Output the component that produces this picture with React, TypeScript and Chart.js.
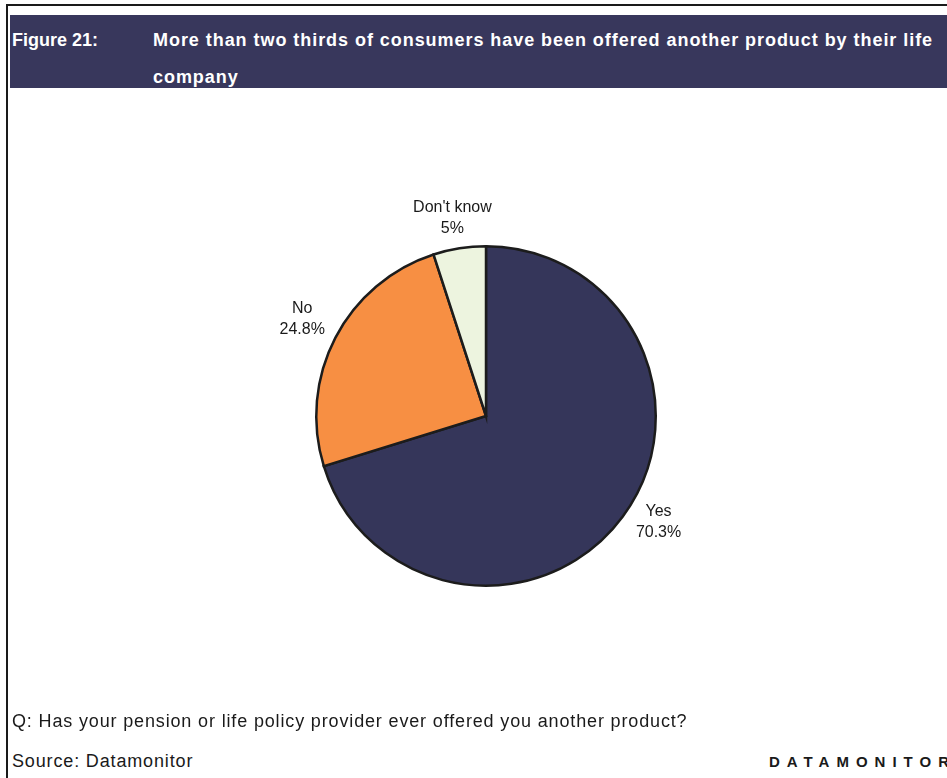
import React, { useEffect, useRef } from "react";
import { Chart, registerables } from "chart.js";

Chart.register(...registerables);

const categories = ["Yes", "No", "Don't know"];
const values = [70.3, 24.8, 5];
const valueLabels = ["70.3%", "24.8%", "5%"];
const colors = ["#35365A", "#F78F43", "#EDF4DF"];

const titleLabel = "Figure 21:";
const titleLine1 = "More than two thirds of consumers have been offered another product by their life";
const titleLine2 = "company";
const question = "Q: Has your pension or life policy provider ever offered you another product?";
const source = "Source: Datamonitor";
const brand = "DATAMONITOR";

// label placement tweaks (style only): radial factor and pixel nudges
const labelRadius = [1.19, 1.22, 1.19];
const labelNudge = [
  [10, -14],
  [0, -2],
  [-2, 2],
];

const labelPlugin = {
  id: "outerLabels",
  afterDatasetsDraw(chart: any) {
    const ctx = chart.ctx;
    const meta = chart.getDatasetMeta(0);
    ctx.save();
    ctx.fillStyle = "#1a1a1a";
    ctx.font = "16px 'Liberation Sans', Arial, sans-serif";
    ctx.textAlign = "center";
    ctx.textBaseline = "middle";
    meta.data.forEach((arc: any, i: number) => {
      const mid = (arc.startAngle + arc.endAngle) / 2;
      const r = arc.outerRadius * labelRadius[i];
      const x = arc.x + Math.cos(mid) * r + labelNudge[i][0];
      const y = arc.y + Math.sin(mid) * r + labelNudge[i][1];
      ctx.fillText(categories[i], x, y - 10.5);
      ctx.fillText(valueLabels[i], x, y + 10.5);
    });
    ctx.restore();
  },
};

export default function App() {
  const ref = useRef<HTMLCanvasElement>(null);
  useEffect(() => {
    document.body.style.margin = "0";
    const chart = new Chart(ref.current!, {
      type: "pie",
      data: {
        labels: categories,
        datasets: [
          {
            data: values,
            backgroundColor: colors,
            borderColor: "#1c1c1c",
            borderWidth: 2.5,
            borderJoinStyle: "miter",
          } as any,
        ],
      },
      options: {
        animation: false,
        responsive: false,
        layout: { padding: 129 },
        plugins: { legend: { display: false }, tooltip: { enabled: false } },
      },
      plugins: [labelPlugin],
    });
    return () => chart.destroy();
  }, []);

  const sans = "'Liberation Sans', Arial, Helvetica, sans-serif";
  return (
    <div style={{ position: "absolute", left: 0, top: 0, width: 947, height: 778, overflow: "hidden", background: "#fff" }}>
      <div style={{ position: "absolute", left: 6, top: 4, width: 1000, height: 900, border: "2px solid #1a1a1a" }} />
      <div style={{ position: "absolute", left: 10, top: 15, width: 1000, height: 73, background: "#38375C" }} />
      <div style={{ position: "absolute", left: 12, top: 30, color: "#fff", font: `bold 18px ${sans}`, lineHeight: "20px", whiteSpace: "nowrap" }}>{titleLabel}</div>
      <div style={{ position: "absolute", left: 153, top: 30, color: "#fff", font: `bold 18px ${sans}`, lineHeight: "20px", whiteSpace: "nowrap", letterSpacing: "0.95px" }}>{titleLine1}</div>
      <div style={{ position: "absolute", left: 153, top: 67, color: "#fff", font: `bold 18px ${sans}`, lineHeight: "20px", whiteSpace: "nowrap", letterSpacing: "0.95px" }}>{titleLine2}</div>
      <canvas ref={ref} width={600} height={600} style={{ position: "absolute", left: 186, top: 116, width: 600, height: 600 }} />
      <div style={{ position: "absolute", left: 12, top: 710, color: "#1a1a1a", font: `18px ${sans}`, lineHeight: "22px", whiteSpace: "nowrap", letterSpacing: "0.85px" }}>{question}</div>
      <div style={{ position: "absolute", left: 12, top: 750, color: "#1a1a1a", font: `18px ${sans}`, lineHeight: "22px", whiteSpace: "nowrap", letterSpacing: "0.85px" }}>{source}</div>
      <div style={{ position: "absolute", left: 769, top: 752, color: "#1a1a1a", font: `bold 15px ${sans}`, lineHeight: "20px", letterSpacing: "7px", whiteSpace: "nowrap" }}>{brand}</div>
    </div>
  );
}
